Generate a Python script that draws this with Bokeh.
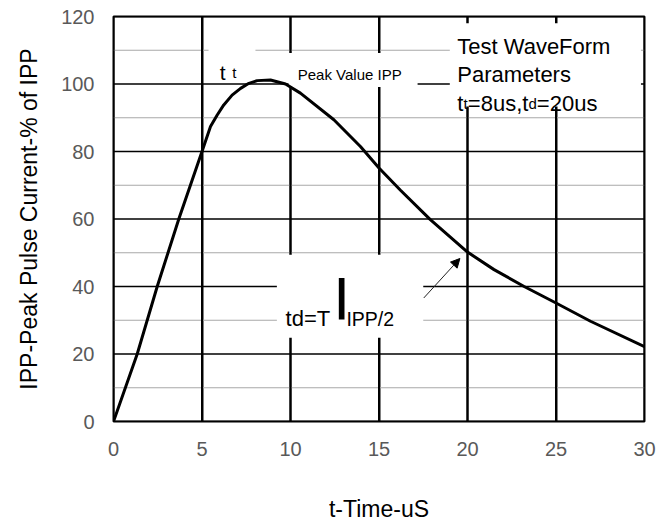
from bokeh.plotting import figure
from bokeh.models import Range1d, FixedTicker, Arrow, NormalHead
from bokeh.core.properties import value
from bokeh.embed import file_html
from bokeh.resources import INLINE

# data
time_us = [0, 1.34, 2.47, 3.69, 5.0, 5.48, 5.86, 6.23, 6.7, 7.18, 7.65, 8.12, 8.87,
           9.72, 10.56, 12.45, 13.95, 15.0, 16.2, 17.9, 20.0, 21.5, 23.2, 25.0, 26.95, 30.0]
ipp_pct = [0, 20, 40, 60, 80, 87.4, 90.8, 93.8, 96.7, 98.7, 100.2, 101.0, 101.2,
           100.0, 97.3, 89.4, 81.5, 75.1, 68.6, 59.8, 50.2, 45.0, 40.0, 35.1, 29.7, 22.2]
x_ticks = [0, 5, 10, 15, 20, 25, 30]
y_ticks = [0, 20, 40, 60, 80, 100, 120]
y_minor = [10, 30, 50, 70, 90, 110]

FONT = "Liberation Sans"
X0, X1 = x_ticks[0], x_ticks[-1]
Y0, Y1 = y_ticks[0], y_ticks[-1]

p = figure(width=670, height=524, x_range=Range1d(X0, X1), y_range=Range1d(Y0, Y1),
           output_backend="svg", toolbar_location=None,
           min_border_left=113, min_border_right=26, min_border_top=16, min_border_bottom=102,
           x_axis_label="t-Time-uS", y_axis_label="IPP-Peak Pulse Current-% of IPP")
p.background_fill_color = "white"
p.border_fill_color = "white"
p.outline_line_color = "black"
p.outline_line_width = 2

xt = FixedTicker(ticks=x_ticks)
p.xaxis.ticker = xt
p.yaxis.ticker = FixedTicker(ticks=y_ticks)
for ax in (p.xaxis[0], p.yaxis[0]):
    ax.axis_line_color = None
    ax.major_tick_line_color = None
    ax.minor_tick_line_color = None
    ax.major_label_text_font = FONT
    ax.major_label_text_font_size = "20px"
    ax.major_label_text_color = "#595959"
    ax.axis_label_text_font = FONT
    ax.axis_label_text_font_size = "23px"
    ax.axis_label_text_font_style = "normal"
    ax.axis_label_text_color = "black"
p.xaxis.major_label_standoff = 14
p.yaxis.major_label_standoff = 13
p.xaxis.axis_label_standoff = 37
p.yaxis.axis_label_standoff = 16

# vertical grid lines: library grid plus lines through each tick, drawn under the label boxes
p.xgrid.ticker = xt
p.xgrid.grid_line_color = "black"
p.xgrid.grid_line_width = 2
p.ygrid.visible = False
p.multi_line(xs=[[X0, X1] for _ in y_minor], ys=[[v, v] for v in y_minor],
             line_color="#a8a8a8", line_width=1.2)
p.multi_line(xs=[[X0, X1] for _ in y_ticks], ys=[[v, v] for v in y_ticks],
             line_color="black", line_width=1.5)
p.multi_line(xs=[[v] * len(y_ticks) for v in x_ticks], ys=[y_ticks for _ in x_ticks],
             line_color="black", line_width=2)

# white label backgrounds
p.quad(left=[5.37, 9.89, 19.0, 9.23], right=[8.02, 17.18, 29.8, 17.5],
       bottom=[100.6, 99.1, 93.3, 24.8], top=[111.2, 109.2, 118.0, 49.4],
       fill_color="white", line_color=None)

# curve
p.line(time_us, ipp_pct, line_width=3, color="black", line_join="round")

# thick bar in "td=T | IPP/2"
p.quad(left=[12.73], right=[13.05], bottom=[30.2], top=[42.5], fill_color="black", line_color=None)

# arrow
p.add_layout(Arrow(end=NormalHead(size=9, fill_color="black", line_color="black", line_width=1),
                   x_start=17.53, y_start=36.6, x_end=19.57, y_end=48.3,
                   line_width=1, line_color="#222222"))

tf = value(FONT)
# t t
p.text(x=[6.0], y=[103.3], text=["t"], text_font=tf, text_font_size="21px",
       text_baseline="alphabetic", text_align="left", text_color="black")
p.text(x=[6.71], y=[103.3], text=["t"], text_font=tf, text_font_size="15px",
       text_baseline="alphabetic", text_align="left", text_color="black")
# Peak Value IPP
p.text(x=[10.41], y=[102.9], text=["Peak Value IPP"], text_font=tf, text_font_size="15px",
       text_baseline="alphabetic", text_align="left", text_color="black")
# Test waveform box
p.text(x=[19.42, 19.42], y=[111.0, 102.7], text=["Test WaveForm", "Parameters"],
       text_font=tf, text_font_size="22px", text_baseline="alphabetic", text_align="left",
       text_color="black")
p.text(x=[19.42, 19.42, 19.42], y=[94.3, 94.3, 94.3], text=["t", "=8us,t", "=20us"],
       x_offset=[0, 10.6, 79.6], text_font=tf, text_font_size="22px",
       text_baseline="alphabetic", text_align="left", text_color="black")
p.text(x=[19.42, 19.42], y=[94.3, 94.3], text=["t", "d"], x_offset=[6.3, 71.2],
       text_font=tf, text_font_size="15px", text_baseline="alphabetic", text_align="left",
       text_color="black")
# td=T | IPP/2
p.text(x=[9.72], y=[30.4], text=["td=T"], text_font=tf, text_font_size="22px",
       text_baseline="alphabetic", text_align="left", text_color="black")
p.text(x=[13.16], y=[30.4], text=["IPP/2"], text_font=tf, text_font_size="19.5px",
       text_baseline="alphabetic", text_align="left", text_color="black")

open("out.html", "w").write(file_html(p, INLINE))
